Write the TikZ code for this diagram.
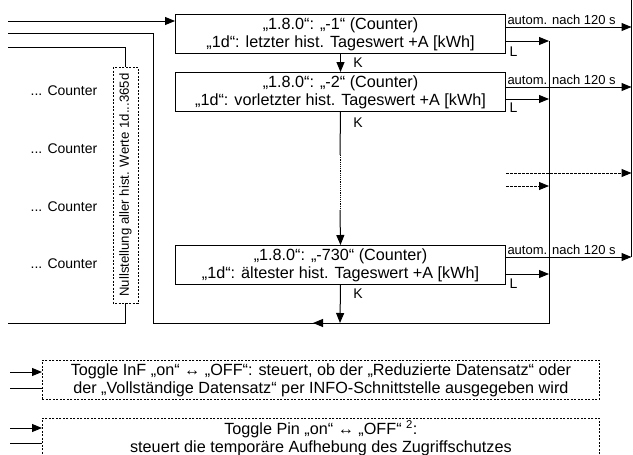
\documentclass[tikz,border=0pt]{standalone}
\usepackage{fontspec}
\setmainfont{Liberation Sans}
\usetikzlibrary{arrows.meta}
\begin{document}
\begin{tikzpicture}[x=1pt,y=-1pt,
  font=\fontsize{16.2}{18}\selectfont,
  line width=1pt,
  >={Triangle[length=10pt,width=8pt]},
  regbox/.style={draw, minimum width=330pt, minimum height=39pt, align=center, inner sep=0pt, anchor=north west},
  dbox/.style={draw, dash pattern=on 2pt off 1.5pt, line width=0.8pt, minimum width=557pt, minimum height=39pt, align=center, inner sep=0pt, anchor=north west},
  dline/.style={dash pattern=on 2.5pt off 1.5pt},
  dotline/.style={dash pattern=on 1.2pt off 1pt},
  lbl/.style={inner sep=0pt, font=\fontsize{14}{16}\selectfont},
  alabel/.style={inner sep=0pt, anchor=south west, font=\fontsize{13}{15}\selectfont}
]
\useasboundingbox (0,0) rectangle (633,455);

% main boxes
\node[regbox] (b1) at (175,14) {„1.8.0“: „-1“ (Counter)\\„1d“: letzter hist. Tageswert +A [kWh]};
\node[regbox] (b2) at (175,72) {„1.8.0“: „-2“ (Counter)\\„1d“: vorletzter hist. Tageswert +A [kWh]};
\node[regbox] (b3) at (175,245) {„1.8.0“: „-730“ (Counter)\\„1d“: ältester hist. Tageswert +A [kWh]};

% vertical dashed box
\node[draw, dash pattern=on 2pt off 1.5pt, line width=0.8pt, rotate=90, minimum width=236pt, minimum height=25pt, inner sep=0pt, font=\fontsize{13.2}{15}\selectfont] (ns) at (125.5,185) {Nullstellung aller hist. Werte 1d...365d};

% counter labels
\node[lbl] (c1) at (64,91) {... Counter};
\node[lbl] (c2) at (64,149) {... Counter};
\node[lbl] (c3) at (64,207) {... Counter};
\node[lbl] (c4) at (64,264) {... Counter};

% coordinates
\coordinate (in1) at (8,21);
\coordinate (in2) at (8,33);
\coordinate (in3) at (8,47);
\coordinate (out3) at (8,323);
\coordinate (loopx) at (153,323);
\coordinate (Lx) at (549,41);
\coordinate (Lbot) at (549,323);
\coordinate (Rtop) at (631.5,0);
\coordinate (Rbot) at (631.5,257);
\coordinate (kb) at (340,323);
\coordinate (ktip) at (313,323);
\coordinate (d1) at (340,155);
\coordinate (d2) at (340,210);

% left inputs
\draw[->] (in1) -- (in1 -| b1.west);
\draw (in2) -| (loopx);
\draw (in3) -| (ns.east);
\draw (ns.west) |- (out3);

% bottom return line
\draw (Lx) -- (Lbot) -- (loopx);
\draw[->] (kb) -- (ktip);

% right vertical line
\draw (Rtop) -- (Rbot);

% K arrows
\draw[->] (b1.south) -- (b2.north);
\node[lbl] (k1) at (358,63) {K};
\draw (b2.south) -- (d1);
\draw[dotline] (d1) -- (d2);
\draw[->] (d2) -- (b3.north);
\node[lbl] (k2) at (358,123) {K};
\draw[->] (b3.south) -- (kb);
\node[lbl] (k3) at (358,294) {K};

% autom arrows
\draw[->] (b1.east |- 0,27) -- (Rtop |- 0,27);
\draw[->] (b2.east |- 0,87) -- (Rtop |- 0,87);
\draw[->] (b3.east |- 0,257) -- (Rbot);
\node[alabel] (a1) at (507,25) {autom. nach 120 s};
\node[alabel] (a2) at (507,85) {autom. nach 120 s};
\node[alabel] (a3) at (507,255) {autom. nach 120 s};

% L arrows
\draw[->] (b1.east |- 0,41) -- (Lx);
\draw[->] (b2.east |- 0,99) -- (Lx |- 0,99);
\draw[->] (b3.east |- 0,274) -- (Lx |- 0,274);
\node[lbl] (l1) at (513.5,52) {L};
\node[lbl] (l2) at (513.5,108) {L};
\node[lbl] (l3) at (513.5,284) {L};

% dashed continuation arrows
\draw[->,dline] (b2.east |- 0,173) -- (Rtop |- 0,173);
\draw[->,dline] (b2.east |- 0,186) -- (Lx |- 0,186);

% lower boxes
\node[dbox] (t1) at (42,360) {Toggle InF „on“ ↔ „OFF“: steuert, ob der „Reduzierte Datensatz“ oder\\der „Vollständige Datensatz“ per INFO-Schnittstelle ausgegeben wird};
\node[dbox] (t2) at (42,418) {Toggle Pin „on“ ↔ „OFF“ \textsuperscript{2}:\\steuert die temporäre Aufhebung des Zugriffschutzes};

\coordinate (ti1) at (10,372);
\coordinate (ti2) at (10,388);
\coordinate (ti3) at (10,428);
\coordinate (ti4) at (10,443);
\draw[->] (ti1) -- (ti1 -| t1.west);
\draw (ti2) -- (ti2 -| t1.west);
\draw[->] (ti3) -- (ti3 -| t2.west);
\draw (ti4) -- (ti4 -| t2.west);
\end{tikzpicture}
\end{document}
